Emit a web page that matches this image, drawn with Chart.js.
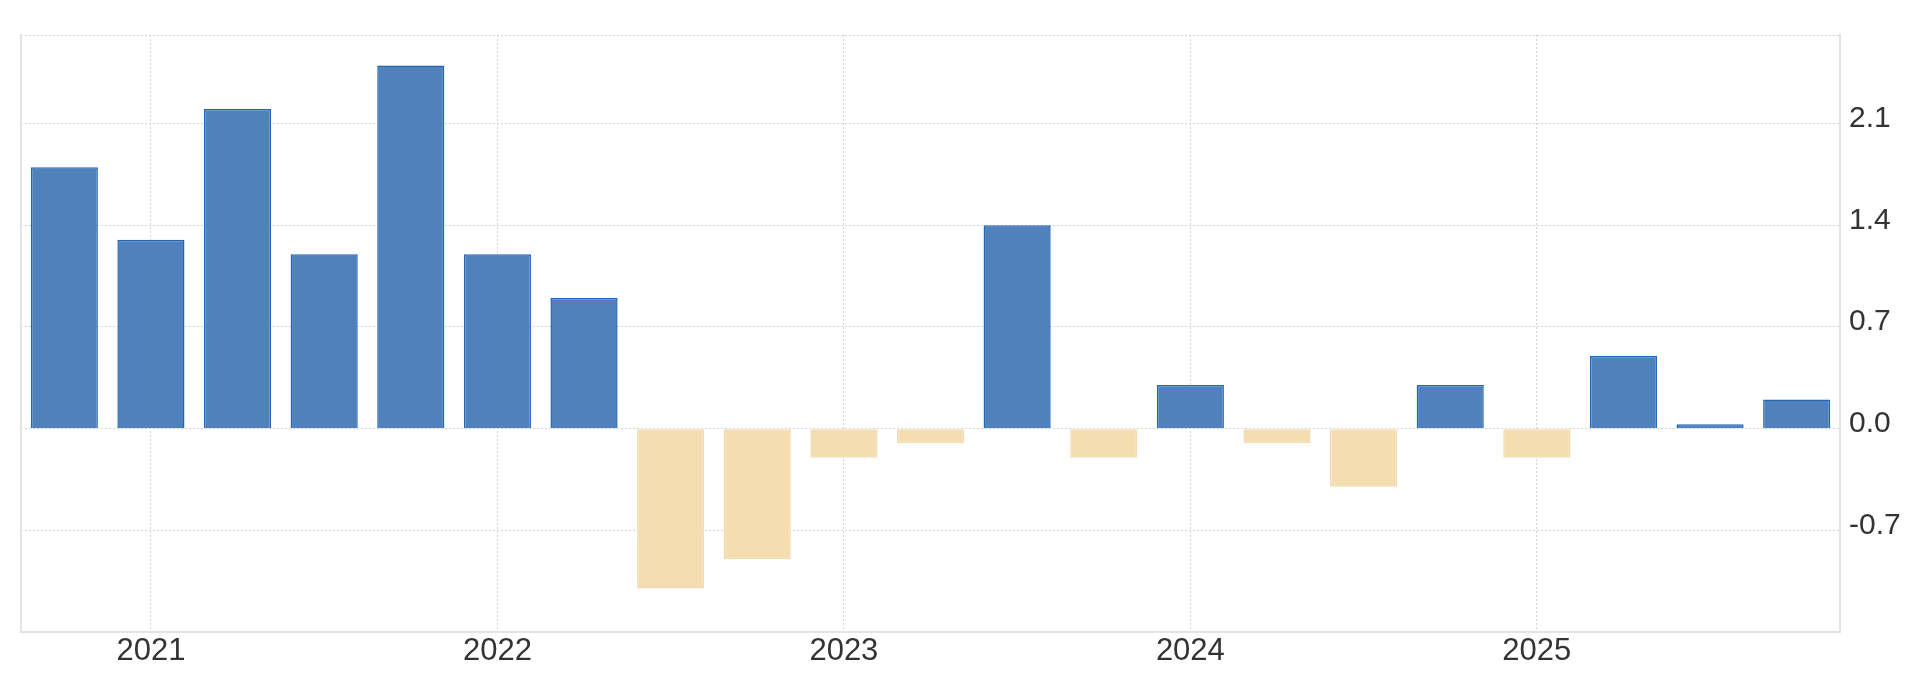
<!DOCTYPE html>
<html>
<head>
<meta charset="utf-8">
<script src="https://cdn.jsdelivr.net/npm/chart.js@4"></script>
<style>
  html, body { margin: 0; padding: 0; background: #fff; }
  #wrap { width: 1920px; height: 674px; position: relative; }
</style>
</head>
<body>
<div id="wrap"><canvas id="chart"></canvas></div>
<script>
const quarters = ['2020Q4', '2021Q1', '2021Q2', '2021Q3', '2021Q4', '2022Q1', '2022Q2', '2022Q3', '2022Q4',
    '2023Q1', '2023Q2', '2023Q3', '2023Q4', '2024Q1', '2024Q2', '2024Q3', '2024Q4',
    '2025Q1', '2025Q2', '2025Q3', '2025Q4'];
const values = [1.8, 1.3, 2.2, 1.2, 2.5, 1.2, 0.9, -1.1, -0.9, -0.2, -0.1, 1.4, -0.2, 0.3, -0.1, -0.4, 0.3, -0.2, 0.5, 0.03, 0.2];
const yTicks = [-0.7, 0, 0.7, 1.4, 2.1];
const yMin = -1.4;
const yMax = 2.71;

const upColor = '#4f81bd', upBorder = '#2566b3';
const downColor = '#f5ddb2', downBorder = '#f3dab0';
const gridColor = '#d4d4d4';
const lineColor = '#e4e4e4';
const font = { family: 'Liberation Sans, Arial, sans-serif', size: 31 };

new Chart(document.getElementById('chart'), {
    type: 'bar',
    data: {
        labels: quarters,
        datasets: [{
            data: values,
            backgroundColor: values.map(v => v >= 0 ? upColor : downColor),
            borderColor: values.map(v => v >= 0 ? upBorder : downBorder),
            borderWidth: 1.5,
            barPercentage: 0.775,
            categoryPercentage: 1
        }]
    },
    options: {
        responsive: true,
        maintainAspectRatio: false,
        animation: false,
        layout: { padding: { top: 35, left: 21, right: 0, bottom: 0 } },
        plugins: { legend: { display: false }, tooltip: { enabled: false } },
        scales: {
            x: {
                offset: true,
                grid: { offset: false, color: gridColor, lineWidth: 1, drawTicks: false },
                border: { display: true, color: lineColor, width: 2, dash: [2, 2] },
                afterBuildTicks: s => { s.ticks = s.ticks.filter(t => quarters[t.value].endsWith('Q1')); },
                afterFit: s => { s.height = 42; },
                ticks: {
                    autoSkip: false, maxRotation: 0, padding: 1, color: '#333', font: font,
                    callback: function (v) { return this.getLabelForValue(v).slice(0, 4); }
                }
            },
            y: {
                position: 'right',
                min: yMin,
                max: yMax,
                grid: { color: gridColor, drawTicks: false },
                border: { display: true, color: lineColor, width: 2, dash: [2, 2] },
                afterBuildTicks: s => { s.ticks = [yMin, ...yTicks, yMax].map(v => ({ value: v })); },
                afterFit: s => { s.width = 80; },
                ticks: {
                    padding: 9, color: '#333', font: { family: font.family, size: 30 }, labelOffset: -5,
                    callback: v => (v === yMin || v === yMax) ? '' : v.toFixed(1)
                }
            },
            yLeft: {
                position: 'left',
                min: yMin,
                max: yMax,
                grid: { display: false },
                border: { display: true, color: lineColor, width: 2 },
                ticks: { display: false },
                afterFit: s => { s.width = 0; }
            }
        }
    }
});
</script>
</body>
</html>
